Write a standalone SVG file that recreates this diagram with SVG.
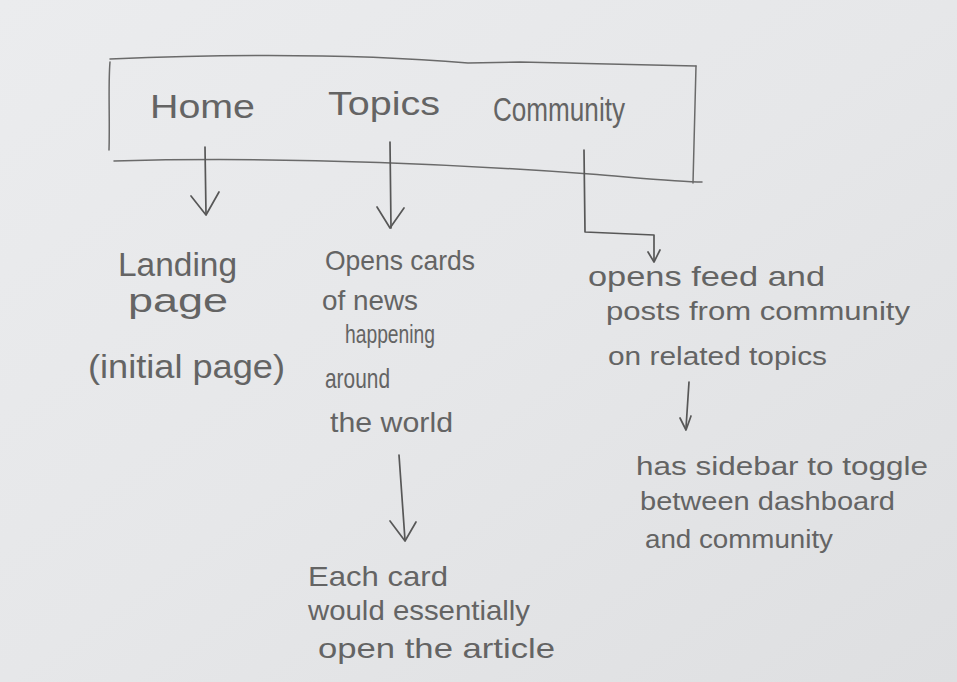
<svg xmlns="http://www.w3.org/2000/svg" width="957" height="682" viewBox="0 0 957 682">
  <defs>
    <linearGradient id="paper" x1="0" y1="0" x2="1" y2="1">
      <stop offset="0" stop-color="#ebecee"/>
      <stop offset="0.5" stop-color="#e6e7e9"/>
      <stop offset="1" stop-color="#dedfe1"/>
    </linearGradient>
  </defs>
  <style>
    .pen { fill: none; stroke: #575757; stroke-width: 1.7; stroke-linecap: round; stroke-linejoin: round; }
    .faint { stroke: #6a6a6a; stroke-width: 1.5; }
    .hand { font-family: "Liberation Sans", "DejaVu Sans", sans-serif; fill: #646464; font-weight: normal; }
    .nav { font-size: 34px; }
    .big { font-size: 34px; }
    .mid { font-size: 28px; }
    .small { font-size: 25px; }
  </style>

  <!-- paper -->
  <rect width="957" height="682" fill="url(#paper)"/>

  <!-- navigation bar -->
  <g id="navbar">
    <path class="pen faint" d="M110 62 C108 85 110 120 109 150"/>
    <path class="pen faint" d="M110 59 C230 54 360 54 468 63 L520 62 L696 66"/>
    <path class="pen faint" d="M696 66 C695 110 694 150 693 183"/>
    <path class="pen faint" d="M114 161 C300 156 480 166 590 174 C640 178 680 182 702 182"/>
    <text class="hand nav" x="150" y="118" textLength="105" lengthAdjust="spacingAndGlyphs">Home</text>
    <text class="hand nav" x="328" y="115" textLength="112" lengthAdjust="spacingAndGlyphs">Topics</text>
    <text class="hand nav" x="493" y="121" font-size="30" textLength="132" lengthAdjust="spacingAndGlyphs">Community</text>
  </g>

  <!-- connectors -->
  <g id="connectors" class="pen">
    <path d="M205 147 L206 214"/>
    <path d="M191 196 L206 215 L219 192"/>
    <path d="M390 142 L391 228"/>
    <path d="M377 207 L390 228 L404 208"/>
    <path d="M584 150 L585 232 L654 235 L654 260"/>
    <path d="M648 252 L654 262 L660 250"/>
    <path d="M689 382 L686 428"/>
    <path d="M680 418 L686 430 L691 416"/>
    <path d="M399 455 L405 540"/>
    <path d="M390 521 L405 541 L416 522"/>
  </g>

  <!-- Home destination -->
  <g id="landing">
    <text class="hand big" x="118" y="276" textLength="119" lengthAdjust="spacingAndGlyphs">Landing</text>
    <text class="hand big" x="128" y="312" textLength="100" lengthAdjust="spacingAndGlyphs">page</text>
    <text class="hand big" x="88" y="378" textLength="197" lengthAdjust="spacingAndGlyphs">(initial page)</text>
  </g>

  <!-- Topics destination -->
  <g id="topics-cards">
    <text class="hand mid" x="325" y="270" textLength="150" lengthAdjust="spacingAndGlyphs">Opens cards</text>
    <text class="hand mid" x="322" y="310" textLength="96" lengthAdjust="spacingAndGlyphs">of news</text>
    <text class="hand small" x="345" y="343" textLength="90" lengthAdjust="spacingAndGlyphs">happening</text>
    <text class="hand mid" x="325" y="388" textLength="65" lengthAdjust="spacingAndGlyphs">around</text>
    <text class="hand mid" x="330" y="432" textLength="123" lengthAdjust="spacingAndGlyphs">the world</text>
  </g>

  <!-- Card detail -->
  <g id="card-article">
    <text class="hand mid" x="308" y="586" textLength="140" lengthAdjust="spacingAndGlyphs">Each card</text>
    <text class="hand mid" x="308" y="620" textLength="222" lengthAdjust="spacingAndGlyphs">would essentially</text>
    <text class="hand mid" x="318" y="658" textLength="237" lengthAdjust="spacingAndGlyphs">open the article</text>
  </g>

  <!-- Community destination -->
  <g id="community-feed">
    <text class="hand mid" x="588" y="286" textLength="237" lengthAdjust="spacingAndGlyphs">opens feed and</text>
    <text class="hand small" x="606" y="320" textLength="304" lengthAdjust="spacingAndGlyphs">posts from community</text>
    <text class="hand small" x="608" y="365" textLength="219" lengthAdjust="spacingAndGlyphs">on related topics</text>
  </g>

  <!-- Sidebar note -->
  <g id="sidebar">
    <text class="hand small" x="636" y="475" textLength="292" lengthAdjust="spacingAndGlyphs">has sidebar to toggle</text>
    <text class="hand small" x="640" y="510" textLength="255" lengthAdjust="spacingAndGlyphs">between dashboard</text>
    <text class="hand small" x="645" y="548" textLength="188" lengthAdjust="spacingAndGlyphs">and community</text>
  </g>
</svg>
